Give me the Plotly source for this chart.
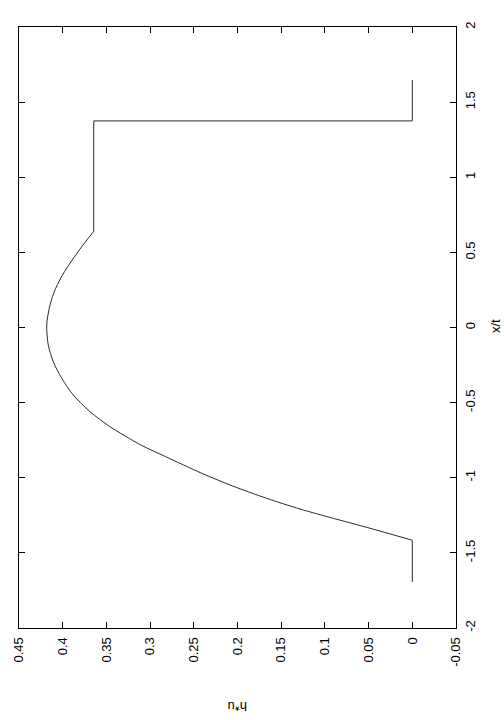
import plotly.graph_objects as go

# x/t values (vertical axis after rotation) and h*u values (horizontal axis)
x_over_t = [-1.694, -1.416, -1.33, -1.27, -1.208, -1.137, -1.055, -0.97, -0.86,
            -0.782, -0.66, -0.56, -0.449, -0.338, -0.228, -0.116, 0.017, 0.15,
            0.261, 0.371, 0.516, 0.64, 1.375, 1.375, 1.647]
hu = [0.0, 0.0, 0.0522, 0.0904, 0.1285, 0.1666, 0.2055, 0.241, 0.282,
      0.3105, 0.3459, 0.3688, 0.3879, 0.4011, 0.4108, 0.4165, 0.4183, 0.4145,
      0.408, 0.398, 0.381, 0.3645, 0.3645, 0.0, 0.0]

hu_ticks = [0.45, 0.4, 0.35, 0.3, 0.25, 0.2, 0.15, 0.1, 0.05, 0.0, -0.05]
hu_labels = ["0.45", "0.4", "0.35", "0.3", "0.25", "0.2", "0.15", "0.1", "0.05", "0", "-0.05"]
xt_ticks = [-2, -1.5, -1, -0.5, 0, 0.5, 1, 1.5, 2]
xt_labels = ["-2", "-1.5", "-1", "-0.5", "0", "0.5", "1", "1.5", "2"]

# smooth section of the curve (between the two kinks) and straight sections
i0 = 1
i1 = x_over_t.index(0.64)

fig = go.Figure()
line_style = dict(color="#2a2a2a", width=1)
fig.add_trace(go.Scatter(x=hu[:i0 + 1], y=x_over_t[:i0 + 1], mode="lines",
                         line=line_style, showlegend=False, hoverinfo="skip"))
fig.add_trace(go.Scatter(x=hu[i0:i1 + 1], y=x_over_t[i0:i1 + 1], mode="lines",
                         line=dict(line_style, shape="spline", smoothing=0.8),
                         showlegend=False, hoverinfo="skip"))
fig.add_trace(go.Scatter(x=hu[i1:], y=x_over_t[i1:], mode="lines",
                         line=line_style, showlegend=False, hoverinfo="skip"))

font = dict(family="Liberation Sans, Arial, sans-serif", size=13, color="black")

fig.update_layout(
    width=504, height=720,
    margin=dict(l=19, r=48, t=27, b=92),
    paper_bgcolor="white", plot_bgcolor="white",
    font=font,
    xaxis=dict(range=[0.45, -0.05], tickvals=hu_ticks, ticktext=hu_labels,
               tickangle=-90, ticks="inside", ticklen=6, tickcolor="black",
               mirror="allticks", showline=True, linecolor="black", linewidth=1,
               showgrid=False, zeroline=False, tickfont=font, automargin=False,
               ticklabelstandoff=3),
    yaxis=dict(range=[-2, 2], tickvals=xt_ticks, ticktext=xt_labels, side="right",
               tickangle=-90, ticks="inside", ticklen=6, tickcolor="black",
               mirror="allticks", showline=True, linecolor="black", linewidth=1,
               showgrid=False, zeroline=False, tickfont=font, automargin=False,
               ticklabelstandoff=2),
    annotations=[
        dict(text="h*u", xref="paper", yref="paper", x=(237 - 19) / 437, y=-(706 - 628) / 601,
             showarrow=False, textangle=180, font=font, xanchor="center", yanchor="middle"),
        dict(text="x/t", xref="paper", yref="paper", x=1 + (495 - 456) / 437, y=(628 - 326) / 601,
             showarrow=False, textangle=-90, font=font, xanchor="center", yanchor="middle"),
    ],
)

fig.write_html("out.html", config={"displayModeBar": False},
               post_script="document.body.style.margin='0';")
